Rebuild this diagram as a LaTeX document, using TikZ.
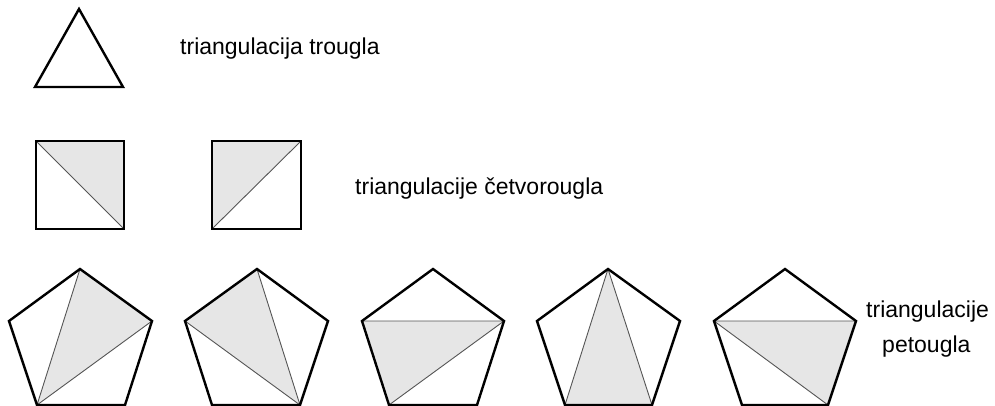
\documentclass[tikz,border=0pt]{standalone}
\usepackage{fontspec}
\setmainfont{Liberation Sans}
\definecolor{shade}{HTML}{E6E6E6}
\definecolor{diag}{HTML}{555555}
\tikzset{
  outline/.style={line width=2.4pt, line join=miter, black},
  diagline/.style={line width=0.9pt, diag},
  shaded/.style={fill=shade},
  label/.style={anchor=base west, inner sep=0pt, font=\fontsize{23}{28}\selectfont}
}
\begin{document}
\begin{tikzpicture}[x=1pt,y=-1pt]
\useasboundingbox (0,0) rectangle (995,406);
% triangle
\coordinate (tA) at (79,9);
\coordinate (tB) at (123,87);
\coordinate (tC) at (35,87);
\draw[outline] (tA) -- (tB) -- (tC) -- cycle;
\node[label] (t1) at (180,55) {triangulacija trougla};
% square 1
\coordinate (s1a) at (36,141);
\coordinate (s1b) at (124,141);
\coordinate (s1c) at (124,229);
\coordinate (s1d) at (36,229);
\fill[shaded] (s1a) -- (s1b) -- (s1c) -- cycle;
\draw[diagline] (s1a) -- (s1c);
\draw[outline] (s1a) -- (s1b) -- (s1c) -- (s1d) -- cycle;
% square 2
\coordinate (s2a) at (212,141);
\coordinate (s2b) at (301,141);
\coordinate (s2c) at (301,229);
\coordinate (s2d) at (212,229);
\fill[shaded] (s2a) -- (s2b) -- (s2d) -- cycle;
\draw[diagline] (s2d) -- (s2b);
\draw[outline] (s2a) -- (s2b) -- (s2c) -- (s2d) -- cycle;
\node[label] (t2) at (355,194) {triangulacije četvorougla};
% pentagons: top, right, BR, BL, left
% pentagon 1
\coordinate (p1t) at (80,269);
\coordinate (p1r) at (152,321);
\coordinate (p1br) at (125,405);
\coordinate (p1bl) at (37,405);
\coordinate (p1l) at (9,321);
\fill[shaded] (p1bl) -- (p1t) -- (p1r) -- cycle;
\draw[diagline] (p1bl) -- (p1t) (p1bl) -- (p1r);
\draw[outline] (p1t) -- (p1r) -- (p1br) -- (p1bl) -- (p1l) -- cycle;
% pentagon 2
\coordinate (p2t) at (257,269);
\coordinate (p2r) at (328,321);
\coordinate (p2br) at (300,405);
\coordinate (p2bl) at (212,405);
\coordinate (p2l) at (185,321);
\fill[shaded] (p2l) -- (p2t) -- (p2br) -- cycle;
\draw[diagline] (p2l) -- (p2br) (p2t) -- (p2br);
\draw[outline] (p2t) -- (p2r) -- (p2br) -- (p2bl) -- (p2l) -- cycle;
% pentagon 3
\coordinate (p3t) at (433,269);
\coordinate (p3r) at (504,321);
\coordinate (p3br) at (477,405);
\coordinate (p3bl) at (389,405);
\coordinate (p3l) at (362,321);
\fill[shaded] (p3l) -- (p3r) -- (p3bl) -- cycle;
\draw[diagline] (p3l) -- (p3r) (p3r) -- (p3bl);
\draw[outline] (p3t) -- (p3r) -- (p3br) -- (p3bl) -- (p3l) -- cycle;
% pentagon 4
\coordinate (p4t) at (608,269);
\coordinate (p4r) at (680,321);
\coordinate (p4br) at (652,405);
\coordinate (p4bl) at (565,405);
\coordinate (p4l) at (537,321);
\fill[shaded] (p4t) -- (p4br) -- (p4bl) -- cycle;
\draw[diagline] (p4t) -- (p4bl) (p4t) -- (p4br);
\draw[outline] (p4t) -- (p4r) -- (p4br) -- (p4bl) -- (p4l) -- cycle;
% pentagon 5
\coordinate (p5t) at (785,269);
\coordinate (p5r) at (856,321);
\coordinate (p5br) at (828,405);
\coordinate (p5bl) at (742,405);
\coordinate (p5l) at (714,321);
\fill[shaded] (p5l) -- (p5r) -- (p5br) -- cycle;
\draw[diagline] (p5l) -- (p5r) (p5l) -- (p5br);
\draw[outline] (p5t) -- (p5r) -- (p5br) -- (p5bl) -- (p5l) -- cycle;
\node[label] (t3) at (866,317) {triangulacije};
\node[label] (t4) at (882,352) {petougla};
\end{tikzpicture}
\end{document}
